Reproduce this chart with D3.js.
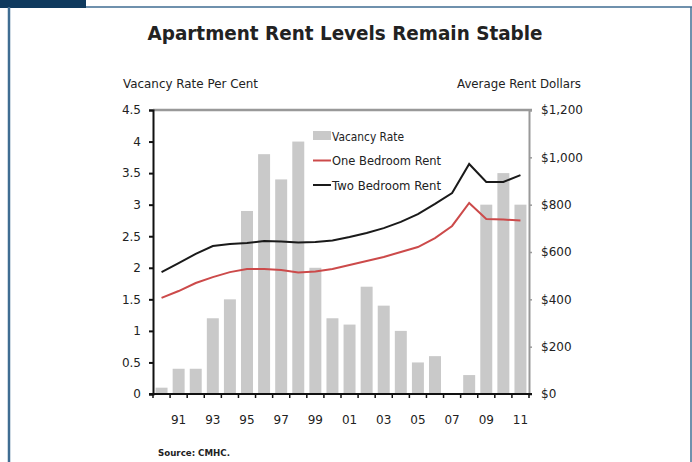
<!DOCTYPE html>
<html>
<head>
<meta charset="utf-8">
<script src="https://cdn.jsdelivr.net/npm/d3@7"></script>
<style>
  body { margin: 0; background: #fff; }
  svg text { font-family: "DejaVu Sans", sans-serif; fill: #222; }
</style>
</head>
<body>
<div id="chart"></div>
<script>
// values
var years = ["1990","1991","1992","1993","1994","1995","1996","1997","1998","1999","2000",
             "2001","2002","2003","2004","2005","2006","2007","2008","2009","2010","2011"];
var vacancy = [0.1,0.4,0.4,1.2,1.5,2.9,3.8,3.4,4.0,2.0,1.2,1.1,1.7,1.4,1.0,0.5,0.6,0,0.3,3.0,3.5,3.0];
var oneBed = [406,435,469,494,515,528,528,524,513,518,528,545,562,579,600,621,659,710,807,739,737,733];
var twoBed = [515,553,592,625,634,638,646,644,640,642,649,663,680,701,727,760,803,849,972,896,896,925];
var leftTicks = [0,0.5,1,1.5,2,2.5,3,3.5,4,4.5];
var rightTicks = [0,200,400,600,800,1000,1200];
var legendItems = [
  {name: "Vacancy Rate", type: "bar", len: 72},
  {name: "One Bedroom Rent", type: "line", color: "#cc4a4a", len: 109},
  {name: "Two Bedroom Rent", type: "line", color: "#1a1a1a", len: 109}
];

(function() {
  var width = 692, height = 462;
  var plot = {left: 153, right: 529, top: 110, bottom: 394};

  var svg = d3.select("#chart").append("svg")
      .attr("width", width)
      .attr("height", height);

  // frame
  svg.append("rect").attr("x", 0).attr("y", 0).attr("width", 86).attr("height", 8).attr("fill", "#0f3a5e");
  svg.append("line").attr("x1", 86).attr("x2", 692).attr("y1", 7).attr("y2", 7)
      .attr("stroke", "#3f6d92").attr("stroke-width", 1.5);
  svg.append("line").attr("x1", 9).attr("x2", 9).attr("y1", 7).attr("y2", 462)
      .attr("stroke", "#3f6d92").attr("stroke-width", 2.5);
  svg.append("line").attr("x1", 691).attr("x2", 691).attr("y1", 7).attr("y2", 462)
      .attr("stroke", "#3f6d92").attr("stroke-width", 1.5);

  svg.append("text")
      .attr("x", 345).attr("y", 40)
      .attr("text-anchor", "middle")
      .attr("textLength", 395).attr("lengthAdjust", "spacingAndGlyphs")
      .style("font-weight", "bold").style("font-size", "19px")
      .text("Apartment Rent Levels Remain Stable");

  var yL = d3.scaleLinear().domain([0, 4.5]).range([plot.bottom, plot.top]);
  var yR = d3.scaleLinear().domain([0, 1200]).range([plot.bottom, plot.top]);
  var x = d3.scaleBand().domain(years).range([plot.left, plot.right]).paddingInner(0.3).paddingOuter(0.15);
  var step = (plot.right - plot.left) / years.length;
  var cx = function(i) { return plot.left + step * (i + 0.5); };

  // bars
  svg.append("g").selectAll("rect")
      .data(vacancy)
      .enter().append("rect")
      .attr("x", function(d, i) { return cx(i) - x.bandwidth() / 2; })
      .attr("width", x.bandwidth())
      .attr("y", function(d) { return yL(d); })
      .attr("height", function(d) { return plot.bottom - yL(d); })
      .attr("fill", "#c9c9c9");

  // lines
  var rentLine = d3.line()
      .x(function(d, i) { return cx(i); })
      .y(function(d) { return yR(d); });

  svg.append("path").datum(oneBed)
      .attr("d", rentLine).attr("fill", "none")
      .attr("stroke", "#cc4a4a").attr("stroke-width", 2);
  svg.append("path").datum(twoBed)
      .attr("d", rentLine).attr("fill", "none")
      .attr("stroke", "#1a1a1a").attr("stroke-width", 2);

  // top gray border + right axis
  svg.append("line").attr("x1", plot.left).attr("x2", plot.right + 3).attr("y1", plot.top).attr("y2", plot.top)
      .attr("stroke", "#999").attr("stroke-width", 2.5);

  var rightAxis = svg.append("g")
      .attr("transform", "translate(" + plot.right + ",0)")
      .call(d3.axisRight(yR).tickValues(rightTicks).tickSize(3).tickPadding(9)
        .tickFormat(function(d) { return "$" + d3.format(",")(d); }));
  rightAxis.select(".domain").attr("stroke", "#999").attr("stroke-width", 2);
  rightAxis.selectAll(".tick line").attr("stroke", "#999").attr("stroke-width", 1.5);
  rightAxis.selectAll("text").style("font-size", "12px").attr("fill", "#222");

  var leftAxis = svg.append("g")
      .attr("transform", "translate(" + plot.left + ",0)")
      .call(d3.axisLeft(yL).tickValues(leftTicks).tickSize(4).tickPadding(8)
        .tickFormat(function(d) { return d3.format("")(d); }));
  leftAxis.select(".domain").attr("stroke", "#111").attr("stroke-width", 2);
  leftAxis.selectAll(".tick line").attr("stroke", "#111").attr("stroke-width", 2);
  leftAxis.selectAll("text").style("font-size", "12px").attr("fill", "#222");

  // x axis: ticks at band edges, labels on odd years
  var edges = d3.range(years.length + 1).map(function(i) { return plot.left + step * i; });
  svg.append("line").attr("x1", plot.left - 4).attr("x2", plot.right + 3)
      .attr("y1", plot.bottom).attr("y2", plot.bottom)
      .attr("stroke", "#111").attr("stroke-width", 2);
  svg.append("g").selectAll("line")
      .data(edges).enter().append("line")
      .attr("x1", function(d) { return d; }).attr("x2", function(d) { return d; })
      .attr("y1", plot.bottom).attr("y2", plot.bottom + 4)
      .attr("stroke", "#111").attr("stroke-width", 1.5);
  svg.append("g").selectAll("text")
      .data(years.filter(function(d, i) { return i % 2 === 1; }))
      .enter().append("text")
      .attr("x", function(d) { return cx(years.indexOf(d)); })
      .attr("y", 424)
      .attr("text-anchor", "middle")
      .style("font-size", "12px")
      .text(function(d) { return d.slice(2); });

  // axis titles
  svg.append("text").attr("x", 123).attr("y", 88).style("font-size", "12px")
      .attr("textLength", 135).attr("lengthAdjust", "spacingAndGlyphs")
      .text("Vacancy Rate  Per Cent");
  svg.append("text").attr("x", 457).attr("y", 88).style("font-size", "12px")
      .attr("textLength", 124).attr("lengthAdjust", "spacingAndGlyphs")
      .text("Average Rent  Dollars");

  // legend
  var legend = svg.append("g").attr("transform", "translate(313,136)");
  var items = legend.selectAll("g").data(legendItems).enter().append("g")
      .attr("transform", function(d, i) { return "translate(0," + (i * 24.5) + ")"; });
  items.filter(function(d) { return d.type === "bar"; }).append("rect")
      .attr("x", 0).attr("y", -5).attr("width", 18).attr("height", 9).attr("fill", "#c9c9c9");
  items.filter(function(d) { return d.type === "line"; }).append("line")
      .attr("x1", 0).attr("x2", 18).attr("y1", 0).attr("y2", 0)
      .attr("stroke", function(d) { return d.color; }).attr("stroke-width", 2);
  items.append("text").attr("x", 19).attr("y", 4.5).style("font-size", "12px")
      .attr("textLength", function(d) { return d.len; }).attr("lengthAdjust", "spacingAndGlyphs")
      .text(function(d) { return d.name; });

  // source
  svg.append("text").attr("x", 158).attr("y", 456).style("font-size", "8.5px").style("font-weight", "bold")
      .attr("textLength", 72).attr("lengthAdjust", "spacingAndGlyphs")
      .text("Source: CMHC.");
})();
</script>
</body>
</html>
